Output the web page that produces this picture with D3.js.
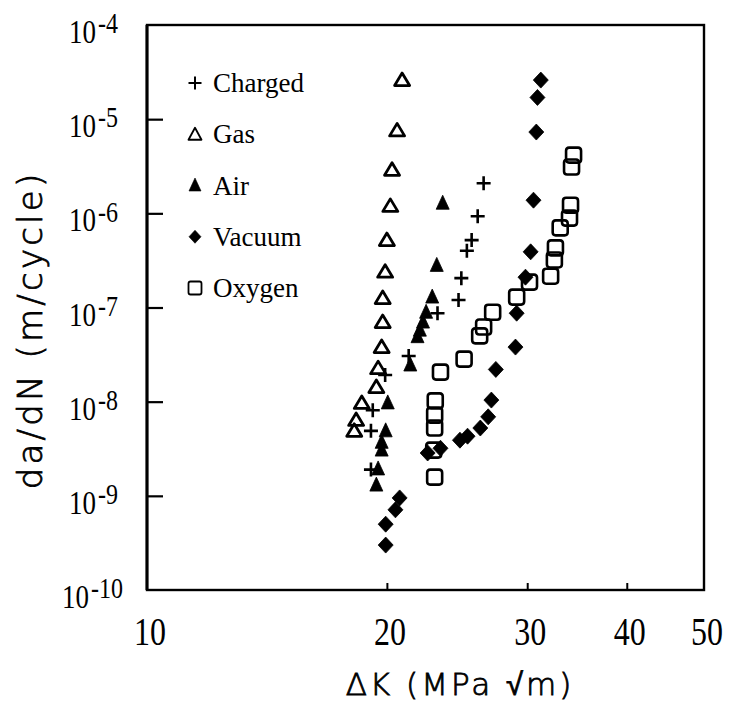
<!DOCTYPE html>
<html>
<head>
<meta charset="utf-8">
<script src="https://cdn.jsdelivr.net/npm/d3@7"></script>
<style>
  html, body { margin: 0; padding: 0; background: #fff; }
  svg { display: block; }
</style>
</head>
<body>
<svg id="chart" width="729" height="705"></svg>
<script>
// ---- Data (ΔK in MPa√m, da/dN in m/cycle) ----
const charged = [
  [26.45, 2.09e-6], [26.0, 9.3e-7], [25.55, 5.2e-7], [25.2, 4.0e-7],
  [24.8, 2.05e-7], [24.6, 1.2e-7], [23.15, 8.7e-8], [21.3, 3.05e-8],
  [19.9, 1.92e-8], [19.2, 8.1e-9], [19.1, 4.9e-9], [19.1, 1.9e-9]
];
const gas = [
  [20.9, 2.6e-5], [20.6, 7.6e-6], [20.3, 2.9e-6], [20.2, 1.2e-6],
  [20.0, 5.2e-7], [19.9, 2.4e-7], [19.76, 1.26e-7], [19.76, 7.0e-8],
  [19.7, 3.8e-8], [19.5, 2.27e-8], [19.4, 1.43e-8], [18.6, 9.7e-9],
  [18.3, 6.4e-9], [18.2, 4.9e-9]
];
const air = [
  [23.5, 1.28e-6], [23.1, 2.8e-7], [22.8, 1.29e-7], [22.4, 8.9e-8],
  [22.2, 7.0e-8], [22.0, 5.75e-8], [21.85, 4.9e-8], [21.4, 2.45e-8],
  [20.05, 9.7e-9], [19.93, 4.9e-9], [19.7, 3.7e-9], [19.7, 3.06e-9],
  [19.5, 1.93e-9], [19.4, 1.3e-9]
];
const vacuum = [
  [31.2, 2.6e-5], [30.9, 1.7e-5], [30.8, 7.3e-6], [30.55, 1.38e-6],
  [30.3, 3.9e-7], [29.85, 2.1e-7], [29.1, 8.7e-8], [29.0, 3.8e-8],
  [27.4, 2.2e-8], [27.05, 1.04e-8], [26.8, 6.9e-9], [26.2, 5.25e-9],
  [25.25, 4.3e-9], [24.7, 3.9e-9], [23.35, 3.2e-9], [22.5, 2.85e-9],
  [20.75, 9.5e-10], [20.5, 7.1e-10], [19.93, 5.0e-10], [19.93, 3.0e-10]
];
const oxygen = [
  [34.3, 4.15e-6], [34.1, 3.1e-6], [34.0, 1.22e-6], [33.9, 8.9e-7],
  [33.0, 7.0e-7], [32.55, 4.3e-7], [32.45, 3.2e-7], [32.1, 2.15e-7],
  [30.2, 1.86e-7], [29.1, 1.29e-7], [27.15, 8.9e-8], [26.45, 6.2e-8],
  [26.15, 5.0e-8], [25.0, 2.83e-8], [23.35, 2.06e-8], [23.0, 1.02e-8],
  [22.96, 7.2e-9], [22.96, 5.25e-9], [22.9, 3.06e-9], [22.96, 1.58e-9]
];
const legendLabels = ["Charged", "Gas", "Air", "Vacuum", "Oxygen"];
const xTickValues = [10, 20, 30, 40, 50];
const xTickLabels = ["10", "20", "30", "40", "50"];
const yTickValues = [1e-4, 1e-5, 1e-6, 1e-7, 1e-8, 1e-9, 1e-10];
const yTickExponents = ["-4", "-5", "-6", "-7", "-8", "-9", "-10"];
const xTitle = "\u0394K (MPa \u221Am)";
const yTitle = "da/dN (m/cycle)";

// ---- Layout ----
const svg = d3.select("#chart");
const x = d3.scaleLog().domain([10, 50]).range([147, 704]);
const y = d3.scaleLog().domain([1e-10, 1e-4]).range([590, 25]);
const serif = "'Liberation Serif', 'Times New Roman', serif";
const sans = "'DejaVu Sans', 'Liberation Sans', sans-serif";

// Frame
svg.append("rect")
  .attr("x", x(10)).attr("y", y(1e-4))
  .attr("width", x(50) - x(10)).attr("height", y(1e-10) - y(1e-4))
  .attr("fill", "none").attr("stroke", "#000").attr("stroke-width", 2.4);
svg.append("line")
  .attr("x1", x(10)).attr("x2", x(10)).attr("y1", y(1e-4)).attr("y2", y(1e-10))
  .attr("stroke", "#000").attr("stroke-width", 3);

// Inward ticks via axes
const yAxis = d3.axisRight(y).tickValues([1e-5, 1e-6, 1e-7, 1e-8, 1e-9])
  .tickSize(16).tickFormat("");
svg.append("g").attr("transform", `translate(${x(10)},0)`).call(yAxis)
  .call(g => g.select(".domain").remove())
  .selectAll("line").attr("stroke", "#000").attr("stroke-width", 2.2);

const xAxis = d3.axisTop(x).tickValues([20, 30, 40]).tickSize(7).tickFormat("");
svg.append("g").attr("transform", `translate(0,${y(1e-10)})`).call(xAxis)
  .call(g => g.select(".domain").remove())
  .selectAll("line").attr("stroke", "#000").attr("stroke-width", 2);

// X tick labels
xTickValues.forEach((v, i) => {
  svg.append("text")
    .attr("transform", `translate(${x(v) + 3},${y(1e-10) + 55}) scale(1,1.22)`)
    .attr("text-anchor", "middle")
    .attr("font-family", serif).attr("font-size", 32).attr("fill", "#000")
    .text(xTickLabels[i]);
});

// Y tick labels with superscript exponents
yTickValues.forEach((v, i) => {
  const t = svg.append("text")
    .attr("transform", `translate(${i === 6 ? 123 : 118},${y(v) + 18}) scale(1,1.22)`)
    .attr("text-anchor", "end")
    .attr("font-family", serif).attr("font-size", 27).attr("fill", "#000");
  t.append("tspan").text("10");
  t.append("tspan").attr("dx", 2).attr("dy", -8).attr("font-size", 24).text(yTickExponents[i]);
});

// Axis titles
svg.append("text")
  .attr("x", 460).attr("y", 695)
  .attr("text-anchor", "middle")
  .attr("font-family", sans).attr("font-weight", 200)
  .attr("stroke", "#000").attr("stroke-width", 0.8)
  .attr("font-size", 31).attr("letter-spacing", 3)
  .attr("fill", "#000").text(xTitle);
svg.append("text")
  .attr("transform", "translate(42,330) rotate(-90)")
  .attr("text-anchor", "middle")
  .attr("font-family", sans).attr("font-weight", 200)
  .attr("stroke", "#000").attr("stroke-width", 0.8)
  .attr("font-size", 34).attr("letter-spacing", 3.2)
  .attr("fill", "#000").text(yTitle);

// ---- Markers ----
const markers = {
  cross: { d: "M-7,0H7M0,-7V7", fill: "none", sw: 2.6 },
  openTri: { d: "M0,-7L7.5,5.5H-7.5Z", fill: "none", sw: 2.8 },
  fillTri: { d: "M0,-8L6.5,6H-6.5Z", fill: "#000", sw: 0.8 },
  diamond: { d: "M0,-8L7.5,0L0,8L-7.5,0Z", fill: "#000", sw: 0.8 },
  square: { d: "M-4.5,-7.5H4.5Q7.5,-7.5 7.5,-4.5V4.5Q7.5,7.5 4.5,7.5H-4.5Q-7.5,7.5 -7.5,4.5V-4.5Q-7.5,-7.5 -4.5,-7.5Z", fill: "none", sw: 2.6 }
};
const series = [
  { data: gas, m: "openTri" },
  { data: air, m: "fillTri" },
  { data: charged, m: "cross" },
  { data: vacuum, m: "diamond" },
  { data: oxygen, m: "square" }
];
series.forEach(s => {
  const mk = markers[s.m];
  svg.append("g").selectAll("path").data(s.data).join("path")
    .attr("transform", d => `translate(${x(d[0])},${y(d[1])})`)
    .attr("d", mk.d)
    .attr("fill", mk.fill).attr("stroke", "#000")
    .attr("stroke-width", mk.sw).attr("stroke-linejoin", "round");
});

// ---- Legend ----
const legendMarkers = [
  { d: "M-6.5,0H6.5M0,-6.5V6.5", fill: "none", sw: 2 },
  { d: "M0,-6.5L6.5,5.5H-6.5Z", fill: "none", sw: 1.8 },
  { d: "M0,-7.5L6,5.5H-6Z", fill: "#000", sw: 0.6 },
  { d: "M0,-6.5L6,0L0,6.5L-6,0Z", fill: "#000", sw: 0.6 },
  { d: "M-4.5,-6.5H4.5Q6.5,-6.5 6.5,-4.5V4.5Q6.5,6.5 4.5,6.5H-4.5Q-6.5,6.5 -6.5,4.5V-4.5Q-6.5,-6.5 -4.5,-6.5Z", fill: "none", sw: 1.8 }
];
const legendY = d3.scalePoint().domain(legendLabels).range([83, 288]);
legendLabels.forEach((lab, i) => {
  const cy = legendY(lab);
  const lm = legendMarkers[i];
  svg.append("path")
    .attr("transform", `translate(195,${cy})`)
    .attr("d", lm.d).attr("fill", lm.fill).attr("stroke", "#000")
    .attr("stroke-width", lm.sw).attr("stroke-linejoin", "round");
  svg.append("text")
    .attr("x", 213).attr("y", cy + 9)
    .attr("font-family", serif).attr("font-size", 27).attr("fill", "#000")
    .text(lab);
});
</script>
</body>
</html>
